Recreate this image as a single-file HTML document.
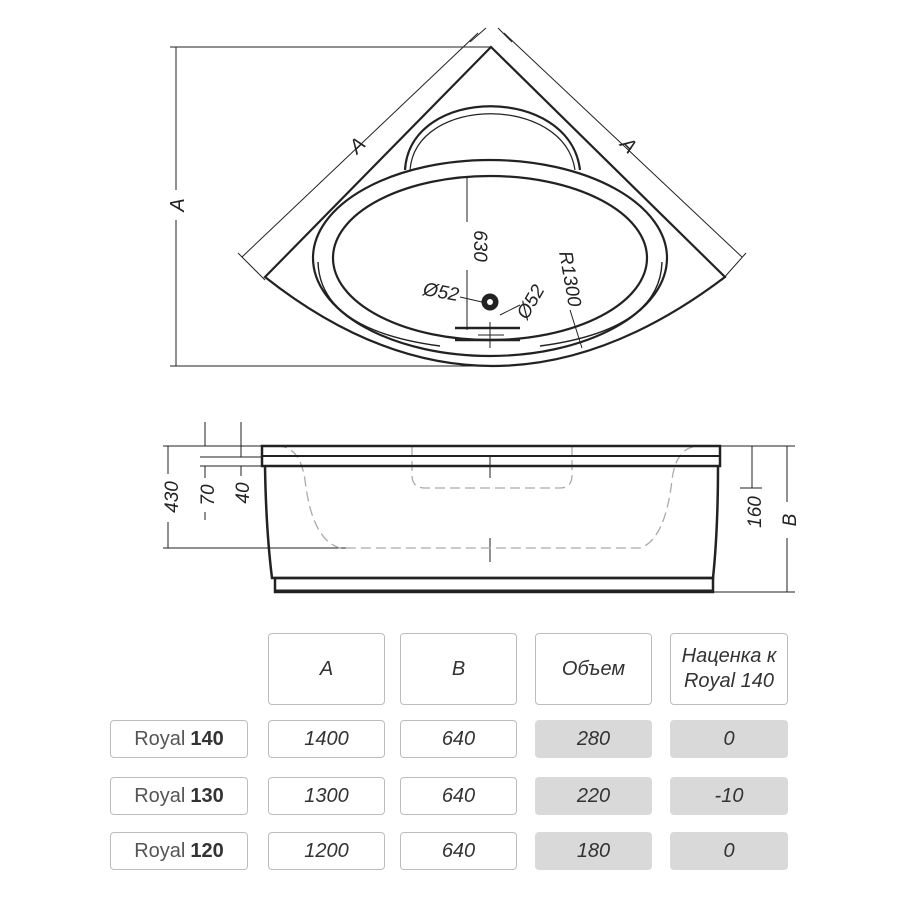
<!DOCTYPE html>
<html><head><meta charset="utf-8"><style>
html,body{margin:0;padding:0;background:#fff;width:900px;height:900px;overflow:hidden}
svg{position:absolute;left:0;top:0}
.c{position:absolute;box-sizing:border-box;border:1.5px solid #bdbdbd;border-radius:4px;display:flex;align-items:center;justify-content:center;font-family:"Liberation Sans Narrow","Liberation Sans",sans-serif;font-style:italic;font-size:20px;color:#333;text-align:center;line-height:1.25}
.g{background:#d9d9d9;border-color:#d9d9d9}
.n{font-style:normal;color:#555}
.n b{color:#333;margin-left:5px}
</style></head><body>
<svg width="900" height="900" viewBox="0 0 900 900" font-family="Liberation Sans, sans-serif" font-style="italic" fill="none" stroke="#222">
<!-- top view -->
<g stroke-width="1">
<line x1="170" y1="47" x2="492" y2="47"/>
<line x1="170" y1="366" x2="492" y2="366"/>
<line x1="176" y1="47" x2="176" y2="190"/><line x1="176" y1="220" x2="176" y2="366"/>
<line x1="478" y1="33" x2="242" y2="257"/>
<line x1="504" y1="33" x2="742" y2="257"/>
<line x1="486" y1="28" x2="470" y2="42"/><line x1="498" y1="28" x2="512" y2="42"/>
<line x1="238" y1="253" x2="265" y2="280"/><line x1="746" y1="253" x2="722" y2="280"/>
</g>
<g fill="#222" stroke="none" font-size="20">
<text x="184" y="205" transform="rotate(-90 184 205)" text-anchor="middle">A</text>
<text x="362" y="150" transform="rotate(-45 362 150)" text-anchor="middle">A</text>
<text x="624" y="150" transform="rotate(45 624 150)" text-anchor="middle">A</text>
</g>
<g stroke-width="2.2">
<path d="M491 47 L265 277 Q490 455 725 277 Z"/>
<path d="M405 170 C410 85 570 85 580 170" />
<path d="M410 170 C416 95 564 95 575 170" stroke-width="1.2"/>
<ellipse cx="490" cy="258" rx="177" ry="98"/>
<ellipse cx="490" cy="258" rx="157" ry="82"/>
<path d="M318 262 Q320 330 440 346" stroke-width="1.4"/>
<path d="M662 262 Q660 330 540 346" stroke-width="1.4"/>
<line x1="455" y1="328" x2="520" y2="328" stroke-width="2.5"/>
<line x1="455" y1="340" x2="520" y2="340" stroke-width="2.5"/>
</g>
<circle cx="490" cy="302" r="8" fill="#222"/>
<circle cx="490" cy="302" r="3" fill="#fff" stroke="none"/>
<g stroke-width="1">
<line x1="467" y1="177" x2="467" y2="222"/><line x1="467" y1="270" x2="467" y2="330"/>
<line x1="490" y1="322" x2="490" y2="348"/><line x1="478" y1="335" x2="504" y2="335"/>
<line x1="460" y1="297" x2="482" y2="302"/>
<line x1="500" y1="315" x2="520" y2="305"/>
<line x1="570" y1="310" x2="582" y2="348"/>
</g>
<g fill="#222" stroke="none" font-size="19">
<text x="474" y="246" transform="rotate(90 474 246)" text-anchor="middle">630</text>
<text x="440" y="298" text-anchor="middle" transform="rotate(10 440 298)">Ø52</text>
<text x="536" y="305" text-anchor="middle" transform="rotate(-60 536 305)">Ø52</text>
<text x="564" y="280" text-anchor="middle" transform="rotate(80 564 280)">R1300</text>
</g>
<!-- side view -->
<g stroke-width="1">
<line x1="163" y1="446" x2="262" y2="446"/>
<line x1="163" y1="548" x2="355" y2="548"/>
<line x1="200" y1="457" x2="262" y2="457"/>
<line x1="200" y1="466" x2="262" y2="466"/>
<line x1="168" y1="446" x2="168" y2="474"/><line x1="168" y1="522" x2="168" y2="548"/>
<line x1="205" y1="422" x2="205" y2="446"/><line x1="205" y1="466" x2="205" y2="478"/><line x1="205" y1="512" x2="205" y2="520"/>
<line x1="241" y1="422" x2="241" y2="457"/><line x1="241" y1="466" x2="241" y2="476"/>
<line x1="720" y1="446" x2="795" y2="446"/>
<line x1="740" y1="488" x2="762" y2="488"/>
<line x1="712" y1="592" x2="795" y2="592"/>
<line x1="752" y1="446" x2="752" y2="488"/>
<line x1="787" y1="446" x2="787" y2="502"/><line x1="787" y1="538" x2="787" y2="592"/>
<line x1="490" y1="455" x2="490" y2="478"/><line x1="490" y1="538" x2="490" y2="562"/>
</g>
<g stroke="#aaa" stroke-width="1.3" stroke-dasharray="10 5">
<path d="M277 446 Q300 446 305 480 Q312 540 340 548 L640 548 Q665 540 672 480 Q676 446 700 446"/>
<path d="M412 446 L412 475 Q412 488 425 488 L560 488 Q572 488 572 475 L572 446"/>
</g>
<g stroke-width="2.5">
<rect x="262" y="446" width="458" height="20"/>
<line x1="262" y1="456" x2="720" y2="456" stroke-width="2"/>
<path d="M265 466 Q266 530 272 578 L713 578 Q718 530 718 466"/>
<rect x="275" y="578" width="438" height="14"/>
<line x1="275" y1="591" x2="713" y2="591" stroke-width="3"/>
</g>
<g fill="#222" stroke="none" font-size="19">
<text x="178" y="497" transform="rotate(-90 178 497)" text-anchor="middle">430</text>
<text x="214" y="495" transform="rotate(-90 214 495)" text-anchor="middle">70</text>
<text x="249" y="493" transform="rotate(-90 249 493)" text-anchor="middle">40</text>
<text x="761" y="512" transform="rotate(-90 761 512)" text-anchor="middle">160</text>
<text x="796" y="520" transform="rotate(-90 796 520)" text-anchor="middle">B</text>
</g>
</svg>
<div class="c" style="left:268px;top:633px;width:117px;height:72px">A</div>
<div class="c" style="left:400px;top:633px;width:117px;height:72px">B</div>
<div class="c" style="left:535px;top:633px;width:117px;height:72px">Объем</div>
<div class="c" style="left:670px;top:633px;width:118px;height:72px">Наценка к<br>Royal 140</div>

<div class="c n" style="left:110px;top:720px;width:138px;height:38px">Royal<b>140</b></div>
<div class="c" style="left:268px;top:720px;width:117px;height:38px">1400</div>
<div class="c" style="left:400px;top:720px;width:117px;height:38px">640</div>
<div class="c g" style="left:535px;top:720px;width:117px;height:38px">280</div>
<div class="c g" style="left:670px;top:720px;width:118px;height:38px">0</div>

<div class="c n" style="left:110px;top:777px;width:138px;height:38px">Royal<b>130</b></div>
<div class="c" style="left:268px;top:777px;width:117px;height:38px">1300</div>
<div class="c" style="left:400px;top:777px;width:117px;height:38px">640</div>
<div class="c g" style="left:535px;top:777px;width:117px;height:38px">220</div>
<div class="c g" style="left:670px;top:777px;width:118px;height:38px">-10</div>

<div class="c n" style="left:110px;top:832px;width:138px;height:38px">Royal<b>120</b></div>
<div class="c" style="left:268px;top:832px;width:117px;height:38px">1200</div>
<div class="c" style="left:400px;top:832px;width:117px;height:38px">640</div>
<div class="c g" style="left:535px;top:832px;width:117px;height:38px">180</div>
<div class="c g" style="left:670px;top:832px;width:118px;height:38px">0</div>
</body></html>
